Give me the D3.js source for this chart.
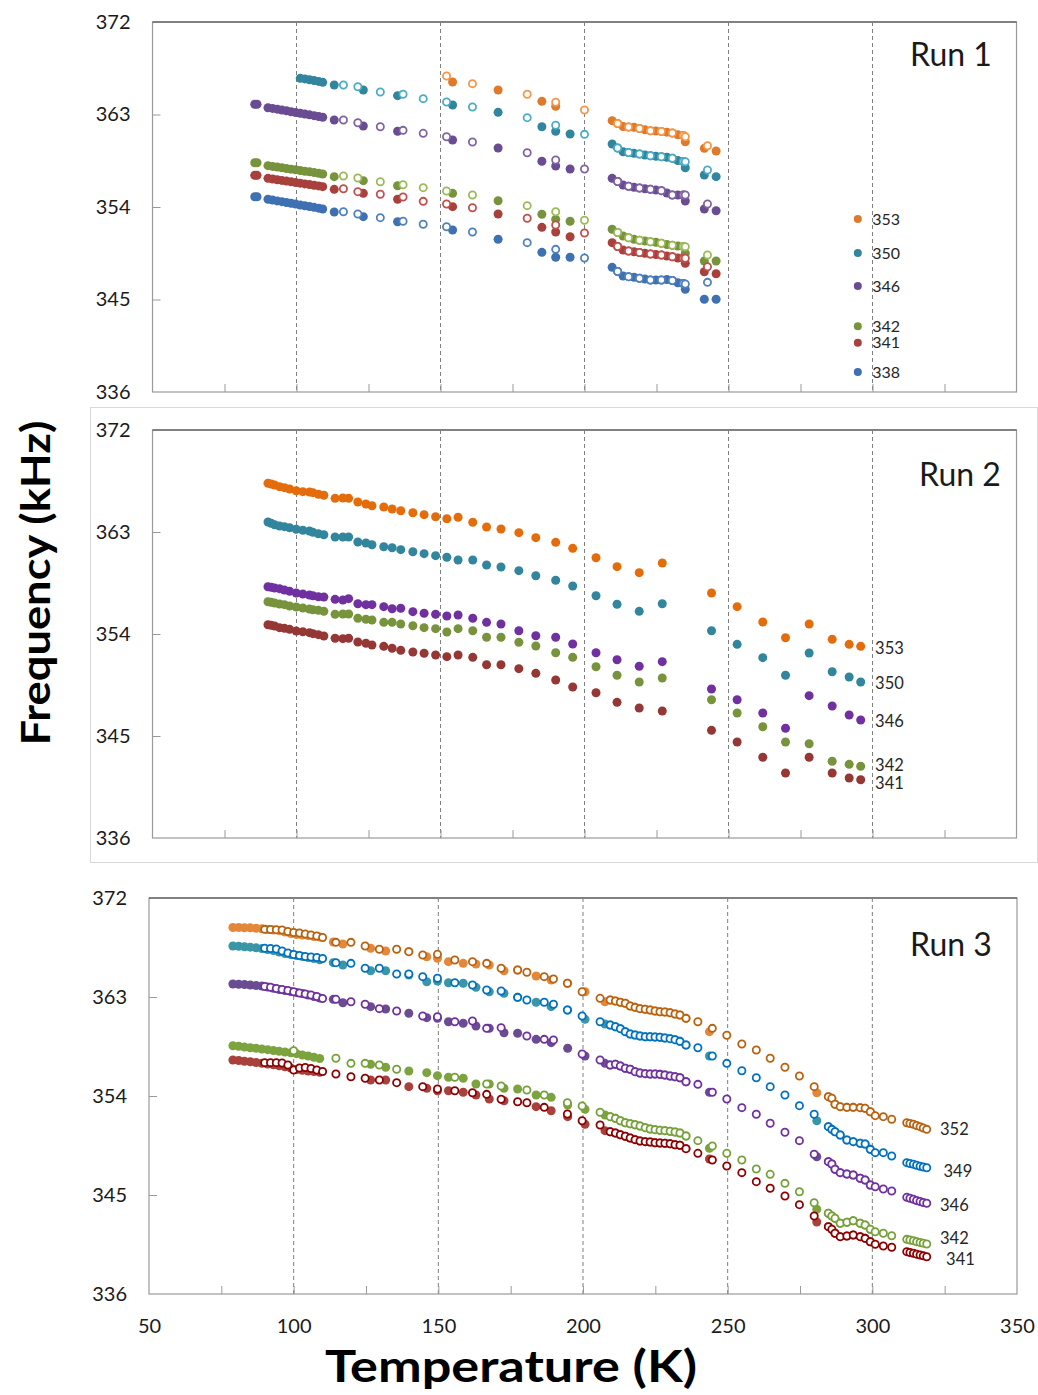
<!DOCTYPE html>
<html><head><meta charset="utf-8">
<script src="https://cdn.jsdelivr.net/npm/d3@7/dist/d3.min.js"></script>
<style>body{margin:0;background:#fff}svg{display:block}</style>
</head><body>
<svg id="chart" width="1038" height="1395" font-family="Lato, 'Open Sans', sans-serif"></svg>
<script>
// ---------------- axes ----------------
const yTicks = [336, 345, 354, 363, 372];
const yInnerTicks = [345, 354, 363];
const xTickLabels = [50, 100, 150, 200, 250, 300, 350];
const xMinorTicks = [75, 100, 125, 150, 175, 200, 225, 250, 275, 300, 325];
const xGridLines = [100, 150, 200, 250, 300];

// ---------------- Run 1 ----------------
const r1Names = ["353", "350", "346", "342", "341", "338"];
const r1FilledT = [85.5, 86.3, 90.1, 91.7, 93.3, 94.9, 96.5, 98.1, 99.7, 101.3, 102.9, 104.5, 106.1, 107.7, 109.1,
  113.1, 123.2, 135.1, 154.2, 170.0, 185.2, 190.0, 195.0,
  209.6, 211.5, 213.4, 215.3, 217.2, 219.1, 221.0, 222.9, 224.8, 226.7, 228.6, 230.5, 232.4, 234.3, 235.0, 241.6, 245.7];
const r1Filled353 = [null, null, null, null, null, null, null, null, null, null, null, null, null, null, null,
  null, null, null, 366.16, 365.38, 364.28, 363.80, null,
  362.40, 362.12, 361.83, 361.78, 361.75, 361.64, 361.51, 361.42, 361.39, 361.35, 361.28, 361.20, 361.03, 360.96, 360.35, 359.71, 359.45];
const r1Filled350 = [null, null, null, null, null, null, null, null, null, 366.52, 366.46, 366.38, 366.30, 366.22, 366.13,
  365.87, 365.38, 364.83, 363.92, 363.21, 361.81, 361.37, 361.10,
  360.13, 359.74, 359.38, 359.30, 359.22, 359.16, 359.06, 358.99, 358.94, 358.89, 358.84, 358.74, 358.52, 358.43, 357.82, 357.11, 356.95];
const r1Filled346 = [364.00, 364.00, 363.66, 363.59, 363.52, 363.43, 363.36, 363.27, 363.20, 363.12, 363.04, 362.97, 362.89, 362.81, 362.73,
  362.47, 361.88, 361.37, 360.52, 359.74, 358.45, 357.99, 357.70,
  356.79, 356.48, 356.14, 356.02, 355.92, 355.85, 355.78, 355.72, 355.65, 355.59, 355.36, 355.17, 355.17, 355.17, 354.58, 353.81, 353.64];
const r1Filled342 = [358.31, 358.31, 358.02, 357.95, 357.89, 357.82, 357.75, 357.68, 357.62, 357.55, 357.48, 357.42, 357.35, 357.28, 357.21,
  356.95, 356.56, 356.07, 355.33, 354.61, 353.29, 352.80, 352.61,
  351.83, 351.52, 351.18, 351.01, 350.86, 350.77, 350.69, 350.62, 350.57, 350.47, 350.35, 350.28, 350.21, 350.16, 349.50, 348.75, 348.75];
const r1Filled341 = [357.08, 357.08, 356.79, 356.72, 356.65, 356.59, 356.52, 356.45, 356.38, 356.32, 356.25, 356.18, 356.12, 356.05, 355.98,
  355.72, 355.33, 354.75, 354.03, 353.32, 352.02, 351.57, 351.11,
  350.53, 350.16, 349.82, 349.72, 349.65, 349.57, 349.50, 349.43, 349.38, 349.33, 349.23, 349.16, 349.04, 349.01, 348.52, 347.70, 347.51];
const r1Filled338 = [355.00, 355.00, 354.75, 354.67, 354.59, 354.52, 354.44, 354.36, 354.28, 354.20, 354.12, 354.05, 353.97, 353.89, 353.81,
  353.51, 353.06, 352.57, 351.76, 350.86, 349.59, 349.11, 349.11,
  348.13, 347.72, 347.29, 347.22, 347.16, 347.07, 346.99, 346.90, 346.90, 346.90, 346.95, 346.85, 346.63, 346.56, 345.99, 345.02, 345.02];
const r1OpenT = [116.3, 121.3, 129.1, 137.0, 144.0, 152.1, 161.1, 180.1, 190.0, 200.0,
  211.5, 215.3, 219.1, 222.9, 226.7, 230.5, 234.3, 235.0, 242.7];
const r1Open353 = [null, null, null, null, null, 366.75, 366.00, 364.97, 364.19, 363.44, 362.12, 361.78, 361.64, 361.42, 361.35, 361.20, 360.96, 360.84, 359.96];
const r1Open350 = [365.87, 365.70, 365.19, 364.97, 364.54, 364.22, 363.73, 362.69, 361.95, 361.07, 359.74, 359.30, 359.16, 358.99, 358.89, 358.74, 358.43, 358.41, 357.60];
const r1Open346 = [362.47, 362.20, 361.81, 361.46, 361.17, 360.84, 360.32, 359.28, 358.57, 357.70, 356.48, 356.02, 355.85, 355.72, 355.59, 355.17, 355.17, 355.17, 354.29];
const r1Open342 = [357.02, 356.82, 356.46, 356.17, 355.88, 355.56, 355.17, 354.13, 353.54, 352.71, 351.52, 351.01, 350.77, 350.62, 350.47, 350.28, 350.16, 350.14, 349.33];
const r1Open341 = [355.78, 355.49, 355.24, 354.97, 354.55, 354.29, 353.93, 352.90, 352.25, 351.47, 350.16, 349.72, 349.57, 349.43, 349.33, 349.16, 349.01, 349.01, 348.19];
const r1Open338 = [353.54, 353.32, 352.96, 352.61, 352.32, 352.08, 351.57, 350.53, 349.88, 349.04, 347.72, 347.22, 347.07, 346.90, 346.90, 346.85, 346.56, 346.51, 346.67];

// ---------------- Run 2 ----------------
const r2Names = ["353", "350", "346", "342", "341"];
const r2T = [90.1, 91.2, 92.4, 94.1, 95.8, 97.6, 99.9, 102.2, 104.5, 105.7, 107.6, 109.5, 113.4, 116.1, 118.1, 121.3, 124.1, 126.2,
  130.3, 133.2, 136.2, 140.4, 144.3, 148.3, 152.2, 156.1, 161.2, 166.0, 171.0, 177.2, 183.1, 190.0, 195.9, 204.0,
  211.3, 219.0, 227.0, 244.1, 253.0, 261.9, 269.8, 278.0, 286.0, 291.9, 295.9];
const r2_353 = [367.30, 367.24, 367.15, 367.00, 366.91, 366.79, 366.64, 366.56, 366.53, 366.47, 366.33, 366.24, 365.97, 366.00, 365.97, 365.65, 365.47, 365.32,
  365.21, 365.03, 364.88, 364.70, 364.53, 364.35, 364.17, 364.30, 363.86, 363.44, 363.26, 362.94, 362.50, 362.09, 361.56, 360.73,
  359.94, 359.41, 360.26, 357.62, 356.41, 355.06, 353.67, 354.88, 353.53, 353.09, 352.91];
const r2_350 = [363.88, 363.77, 363.64, 363.53, 363.47, 363.38, 363.24, 363.15, 363.09, 362.97, 362.85, 362.76, 362.56, 362.56, 362.56, 362.12, 362.03, 361.88,
  361.70, 361.61, 361.44, 361.26, 361.09, 360.91, 360.77, 360.53, 360.53, 360.09, 359.91, 359.59, 359.14, 358.74, 358.24, 357.38,
  356.62, 356.00, 356.67, 354.29, 353.09, 351.91, 350.36, 352.32, 350.67, 350.21, 349.76];
const r2_346 = [358.17, 358.12, 358.06, 358.00, 357.88, 357.77, 357.62, 357.53, 357.44, 357.38, 357.29, 357.26, 357.06, 357.00, 357.12, 356.67, 356.59, 356.59,
  356.41, 356.23, 356.27, 355.97, 355.83, 355.74, 355.59, 355.68, 355.39, 355.03, 354.88, 354.29, 353.85, 353.71, 353.12, 352.35,
  351.73, 351.15, 351.56, 349.15, 348.20, 347.03, 345.68, 348.56, 347.65, 346.85, 346.41];
const r2_342 = [356.85, 356.80, 356.74, 356.65, 356.59, 356.47, 356.38, 356.29, 356.21, 356.14, 356.09, 356.00, 355.74, 355.76, 355.76, 355.39, 355.30, 355.24,
  355.03, 355.03, 354.88, 354.73, 354.56, 354.47, 354.18, 354.47, 354.29, 353.71, 353.71, 353.27, 352.94, 352.35, 351.94, 351.11,
  350.36, 349.76, 350.12, 348.20, 347.03, 345.82, 344.47, 344.32, 342.77, 342.50, 342.33];
const r2_341 = [354.82, 354.77, 354.71, 354.56, 354.50, 354.41, 354.26, 354.20, 354.12, 354.03, 353.94, 353.82, 353.62, 353.59, 353.62, 353.29, 353.18, 353.03,
  352.91, 352.74, 352.56, 352.41, 352.30, 352.15, 352.00, 352.15, 351.94, 351.29, 351.29, 350.94, 350.53, 349.94, 349.32, 348.82,
  347.97, 347.47, 347.21, 345.50, 344.47, 343.12, 341.74, 343.12, 341.74, 341.29, 341.14];

// ---------------- Run 3 ----------------
const r3Names = ["352", "349", "346", "342", "341"];
const r3FilledT = [79, 81, 83, 85, 87, 89, 91, 93, 95, 97, 99, 101, 103, 105, 107, 109,
  113.7, 117.0, 126.6, 131.8, 139.8, 146.0, 149.7, 153.5, 158.6, 163.0, 167.6, 172.7, 177.4, 183.8, 189.0, 194.7, 200.7, 207.6,
  209.4, 211.2, 212.9, 214.6, 216.3, 218.0, 219.7, 221.5, 223.2, 224.9, 226.6, 228.3, 230.1, 231.8, 233.5, 235.6,
  243.7, 280.8, 284.8, 286.0, 287.1, 288.9, 291.2, 293.4, 295.8, 297.5, 299.3];
const r3Filled352 = [369.32, 369.32, 369.30, 369.29, 369.25, 369.20, 369.14, 369.09, 369.05, 368.91, 368.77, 368.68, 368.64, 368.59, 368.50, 368.45,
  368.00, 367.82, 367.43, 367.18, 367.12, 366.66, 366.52, 366.21, 366.06, 366.00, 365.91, 365.39, 365.45, 364.91, 364.55, 364.25, 363.48, 362.57,
  362.73, 362.64, 362.52, 362.43, 362.18, 362.06, 361.94, 361.88, 361.82, 361.73, 361.66, 361.64, 361.57, 361.45, 361.36, 361.06,
  359.85, 354.30, 353.94, 353.79, 353.25, 353.03, 352.97, 352.97, 352.94, 352.88, 352.57];
const r3Filled349 = [367.64, 367.61, 367.57, 367.53, 367.47, 367.41, 367.32, 367.23, 367.09, 366.95, 366.86, 366.77, 366.68, 366.59, 366.50, 366.39,
  366.12, 365.91, 365.39, 365.39, 365.00, 364.39, 364.45, 364.30, 364.25, 363.88, 363.48, 363.34, 362.97, 362.52, 362.12, 361.82, 360.97, 360.55,
  360.45, 360.30, 360.12, 359.85, 359.64, 359.55, 359.45, 359.39, 359.39, 359.36, 359.34, 359.27, 359.21, 359.12, 358.97, 358.64,
  357.64, 351.75, 351.21, 350.97, 350.75, 350.45, 350.00, 349.85, 349.70, 349.64, 349.15];
const r3Filled346 = [364.18, 364.16, 364.14, 364.09, 364.05, 364.00, 363.91, 363.79, 363.68, 363.59, 363.50, 363.41, 363.32, 363.18, 363.05, 362.91,
  362.79, 362.48, 362.12, 361.91, 361.52, 361.12, 361.06, 360.75, 360.61, 360.36, 360.15, 359.75, 359.70, 359.15, 358.85, 358.34, 357.64, 356.97,
  356.82, 356.88, 356.73, 356.52, 356.43, 356.21, 356.09, 356.03, 356.00, 356.00, 355.97, 355.91, 355.82, 355.75, 355.66, 355.30,
  354.34, 348.48, 348.03, 347.82, 347.34, 347.03, 346.91, 346.82, 346.52, 346.36, 345.91];
const r3Filled342 = [358.57, 358.52, 358.45, 358.39, 358.34, 358.27, 358.21, 358.14, 358.06, 358.00, 357.93, 357.85, 357.73, 357.64, 357.52, 357.41,
  null, null, 356.88, 356.61, 356.27, 356.12, 355.85, 355.70, 355.61, 355.09, 355.09, 354.70, 354.64, 354.09, 353.88, 353.18, 352.79, 352.27,
  352.12, 351.97, 351.75, 351.57, 351.48, 351.39, 351.27, 351.12, 351.00, 350.94, 350.88, 350.85, 350.79, 350.73, 350.64, 350.36,
  349.25, 343.70, 343.34, 343.09, 342.88, 342.43, 342.52, 342.66, 342.43, 342.27, 341.88];
const r3Filled341 = [357.27, 357.23, 357.16, 357.11, 357.05, 356.97, 356.91, 356.84, 356.75, 356.66, 356.55, 356.41, 356.34, 356.27, 356.23, 356.15,
  null, null, 355.45, 355.45, 354.85, 354.70, 354.48, 354.48, 354.34, 354.09, 353.73, 353.57, null, 353.03, 352.66, 352.12, 351.43, 350.85,
  350.75, 350.64, 350.48, 350.34, 350.18, 350.03, 349.91, 349.85, 349.82, 349.75, 349.73, 349.70, 349.66, 349.57, 349.52, 349.21,
  348.27, 342.55, 342.12, 341.88, 341.52, 341.21, 341.27, 341.36, 341.21, 341.06, 340.75];
const r3OpenT = [90, 92, 94, 96, 98, 100, 102, 104, 106, 108, 110,
  114.6, 119.8, 124.7, 129.6, 135.6, 139.8, 144.6, 149.7, 155.7, 161.8, 166.7, 171.7, 177.4, 180.6, 186.6, 189.8, 194.6, 199.7, 205.9,
  209.4, 211.2, 212.9, 214.6, 216.3, 218.0, 219.7, 221.5, 223.2, 224.9, 226.6, 228.3, 230.1, 231.8, 233.5, 235.6,
  239.7, 244.7, 249.7, 254.9, 259.9, 264.7, 269.8, 274.8, 279.9,
  284.8, 286.0, 287.1, 288.9, 291.2, 293.4, 295.8, 297.5, 299.3,
  301.0, 303.8, 306.7, 311.9, 313.0, 314.2, 315.3, 316.5, 317.6, 318.8];
const r3Open352 = [369.15, 369.14, 369.12, 369.09, 368.95, 368.86, 368.82, 368.73, 368.64, 368.55, 368.41,
  367.97, 367.97, 367.64, 367.34, 367.34, 367.12, 366.82, 366.88, 366.36, 366.21, 366.06, 365.61, 365.45, 365.25, 364.85, 364.64, 364.25, 363.48, 362.88,
  362.73, 362.64, 362.52, 362.43, 362.18, 362.06, 361.94, 361.88, 361.82, 361.73, 361.66, 361.64, 361.57, 361.45, 361.36, 361.06,
  360.75, 360.15, 359.52, 358.73, 358.18, 357.43, 356.61, 355.82, 354.85,
  353.94, 353.79, 353.25, 353.03, 352.97, 352.97, 352.94, 352.88, 352.57,
  352.21, 352.12, 351.88, 351.57, 351.50, 351.43, 351.32, 351.21, 351.09, 350.97];
const r3Open349 = [367.43, 367.41, 367.36, 367.18, 367.00, 366.86, 366.77, 366.68, 366.64, 366.59, 366.50,
  366.12, 366.06, 365.61, 365.61, 365.09, 365.09, 364.85, 364.70, 364.30, 364.09, 363.64, 363.55, 362.97, 362.73, 362.52, 362.34, 361.82, 361.27, 360.75,
  360.45, 360.30, 360.12, 359.85, 359.64, 359.55, 359.45, 359.39, 359.39, 359.36, 359.34, 359.27, 359.21, 359.12, 358.97, 358.64,
  358.39, 357.64, 356.97, 356.30, 355.66, 354.85, 354.09, 353.12, 352.34,
  351.21, 350.97, 350.75, 350.45, 350.00, 349.85, 349.70, 349.64, 349.15,
  348.85, 348.85, 348.55, 347.94, 347.86, 347.79, 347.70, 347.61, 347.55, 347.48];
const r3Open346 = [363.95, 363.88, 363.77, 363.68, 363.59, 363.48, 363.36, 363.27, 363.18, 363.05, 362.86,
  362.79, 362.57, 362.34, 361.94, 361.73, null, 361.27, 361.21, 360.75, 360.82, 360.15, 360.21, null, 359.45, 359.15, 359.09, null, 357.82, 357.27,
  356.82, 356.88, 356.73, 356.52, 356.43, 356.21, 356.09, 356.03, 356.00, 356.00, 355.97, 355.91, 355.82, 355.75, 355.66, 355.30,
  355.06, 354.34, 353.73, 352.94, 352.34, 351.52, 350.70, 349.94, 348.70,
  348.03, 347.82, 347.34, 347.03, 346.91, 346.82, 346.52, 346.36, 345.91,
  345.75, 345.55, 345.36, 344.79, 344.70, 344.61, 344.50, 344.41, 344.32, 344.25];
const r3Open342 = [null, null, null, null, null, 358.12, null, null, null, null, null,
  357.43, 356.97, 356.97, 356.82, 356.43, null, null, null, 355.70, null, 355.09, 354.91, null, 354.55, 354.09, null, 353.39, 353.09, 352.52,
  352.12, 351.97, 351.75, 351.57, 351.48, 351.39, 351.27, 351.12, 351.00, 350.94, 350.88, 350.85, 350.79, 350.73, 350.64, 350.36,
  349.94, 349.45, 348.79, 348.18, 347.36, 346.88, 346.06, 345.30, 344.30,
  343.34, 343.09, 342.88, 342.43, 342.52, 342.66, 342.43, 342.27, 341.88,
  341.66, 341.52, 341.30, 340.97, 340.91, 340.84, 340.76, 340.69, 340.62, 340.55];
const r3Open341 = [357.03, 357.03, 357.03, 357.00, 356.82, 356.36, 356.55, 356.59, 356.50, 356.36, 356.23,
  356.00, 355.75, 355.61, 355.45, 355.21, null, 354.85, 354.64, 354.48, 354.30, 354.15, 353.70, 353.48, 353.39, 352.97, null, 352.36, 351.75, 351.36,
  350.75, 350.64, 350.48, 350.34, 350.18, 350.03, 349.91, 349.85, 349.82, 349.75, 349.73, 349.70, 349.66, 349.57, 349.52, 349.21,
  348.79, 348.18, 347.64, 347.03, 346.21, 345.61, 344.91, 344.12, 343.09,
  342.12, 341.88, 341.52, 341.21, 341.27, 341.36, 341.21, 341.06, 340.75,
  340.52, 340.36, 340.25, 339.85, 339.77, 339.70, 339.62, 339.55, 339.47, 339.39];

// ---------------- styles / layout ----------------
const r1FillColors = ["#DE7A2C", "#31859C", "#6A4C93", "#77933C", "#A8403C", "#3E70B2"];
const r1OpenColors = ["#F79646", "#4BACC6", "#8064A2", "#9BBB59", "#C0504D", "#4F81BD"];
const r2Colors = ["#E46C0A", "#31859C", "#7030A0", "#77933C", "#953735"];
const r3FillColors = ["#E3883A", "#3A96A6", "#6A4C93", "#7DA33F", "#A8403C"];
const r3OpenColors = ["#B8620F", "#0070C0", "#7030A0", "#76A03A", "#8B0000"];

const r1LegendPos = {t: 294.9, tText: 299.9, f: [352.83, 349.52, 346.31, 342.40, 340.80, 337.95]};
const r2LabelPos = {t: 300.9, f: [352.8, 349.7, 346.3, 342.45, 340.85]};
const r3LabelPos = {t: [323.4, 324.6, 323.4, 323.4, 325.5], f: [351.0, 347.2, 344.1, 341.05, 339.15]};

const layouts = [
  {x0: 152.5, x1: 1016.5, y0: 22, y1: 392, run: "Run 1", runX: 910, runY: 66},
  {x0: 152.5, x1: 1016.5, y0: 430, y1: 838, run: "Run 2", runX: 919, runY: 486},
  {x0: 149, x1: 1017, y0: 898, y1: 1294, run: "Run 3", runX: 910, runY: 956}
];

const svg = d3.select("#chart");
svg.append("rect").attr("width", 1038).attr("height", 1395).attr("fill", "#fff");
svg.append("rect").attr("x", 90.5).attr("y", 407.5).attr("width", 947).attr("height", 455)
  .attr("fill", "none").attr("stroke", "#d9d9d9").attr("stroke-width", 1);

function makePanel(L, showXLabels) {
  const x = d3.scaleLinear().domain([50, 350]).range([L.x0, L.x1]);
  const y = d3.scaleLinear().domain([336, 372]).range([L.y1, L.y0]);
  const g = svg.append("g");
  g.append("rect").attr("x", L.x0).attr("y", L.y0).attr("width", L.x1 - L.x0).attr("height", L.y1 - L.y0)
    .attr("fill", "#fff").attr("stroke", "#9a9a9a").attr("stroke-width", 1.2);
  g.append("line").attr("x1", L.x0).attr("x2", L.x1).attr("y1", L.y0).attr("y2", L.y0)
    .attr("stroke", "#404040").attr("stroke-width", 1);
  g.selectAll(null).data(xGridLines).join("line")
    .attr("x1", d => x(d)).attr("x2", d => x(d)).attr("y1", L.y0).attr("y2", L.y1)
    .attr("stroke", "#7f7f7f").attr("stroke-width", 1).attr("stroke-dasharray", "4,3");
  const ly = g.append("g").attr("transform", `translate(${L.x0},0)`)
    .call(d3.axisLeft(y).tickValues(yInnerTicks).tickSize(-8).tickFormat(""));
  ly.select(".domain").remove();
  ly.selectAll("line").attr("stroke", "#9a9a9a");
  const lx = g.append("g").attr("transform", `translate(0,${L.y1})`)
    .call(d3.axisBottom(x).tickValues(xMinorTicks).tickSize(-8).tickFormat(""));
  lx.select(".domain").remove();
  lx.selectAll("line").attr("stroke", "#9a9a9a");
  const yl = g.append("g").attr("transform", `translate(${L.x0},0)`)
    .call(d3.axisLeft(y).tickValues(yTicks).tickSize(0).tickPadding(22).tickFormat(d3.format("d")));
  yl.select(".domain").remove();
  yl.selectAll("text").attr("font-size", 20).attr("fill", "#1a1a1a").attr("font-family", "Lato, sans-serif");
  if (showXLabels) {
    const xl = g.append("g").attr("transform", `translate(0,${L.y1})`)
      .call(d3.axisBottom(x).tickValues(xTickLabels).tickSize(0).tickPadding(25).tickFormat(d3.format("d")));
    xl.select(".domain").remove();
    xl.selectAll("text").attr("font-size", 20).attr("fill", "#1a1a1a").attr("font-family", "Lato, sans-serif");
  }
  g.append("text").attr("x", L.runX).attr("y", L.runY).attr("font-size", 32).attr("fill", "#1a1a1a").text(L.run);
  return {g, x, y};
}

function filledDots(P, T, vals, color, r) {
  P.g.append("g").selectAll("circle")
    .data(T.map((t, i) => [t, vals[i]]).filter(d => d[1] != null))
    .join("circle").attr("cx", d => P.x(d[0])).attr("cy", d => P.y(d[1])).attr("r", r || 4.5)
    .attr("fill", color);
}
function openDots(P, T, vals, color) {
  P.g.append("g").selectAll("circle")
    .data(T.map((t, i) => [t, vals[i]]).filter(d => d[1] != null))
    .join("circle").attr("cx", d => P.x(d[0])).attr("cy", d => P.y(d[1])).attr("r", 3.6)
    .attr("fill", "#fff").attr("stroke", color).attr("stroke-width", 1.8);
}

// ---- Run 1
const P1 = makePanel(layouts[0], false);
const r1F = [r1Filled353, r1Filled350, r1Filled346, r1Filled342, r1Filled341, r1Filled338];
const r1O = [r1Open353, r1Open350, r1Open346, r1Open342, r1Open341, r1Open338];
r1F.forEach((v, i) => filledDots(P1, r1FilledT, v, r1FillColors[i]));
r1O.forEach((v, i) => openDots(P1, r1OpenT, v, r1OpenColors[i]));
r1Names.forEach((n, i) => {
  P1.g.append("circle").attr("cx", P1.x(r1LegendPos.t)).attr("cy", P1.y(r1LegendPos.f[i])).attr("r", 4)
    .attr("fill", r1FillColors[i]);
  P1.g.append("text").attr("x", P1.x(r1LegendPos.tText)).attr("y", P1.y(r1LegendPos.f[i])).attr("dy", "0.36em")
    .attr("font-size", 16).attr("fill", "#262626").text(n);
});

// ---- Run 2
const P2 = makePanel(layouts[1], false);
const r2V = [r2_353, r2_350, r2_346, r2_342, r2_341];
r2V.forEach((v, i) => filledDots(P2, r2T, v, r2Colors[i]));
r2Names.forEach((n, i) => {
  P2.g.append("text").attr("x", P2.x(r2LabelPos.t)).attr("y", P2.y(r2LabelPos.f[i])).attr("dy", "0.36em")
    .attr("font-size", 16.5).attr("fill", "#262626").text(n);
});

// ---- Run 3
const P3 = makePanel(layouts[2], true);
const r3F = [r3Filled352, r3Filled349, r3Filled346, r3Filled342, r3Filled341];
const r3O = [r3Open352, r3Open349, r3Open346, r3Open342, r3Open341];
r3F.forEach((v, i) => filledDots(P3, r3FilledT, v, r3FillColors[i]));
r3O.forEach((v, i) => openDots(P3, r3OpenT, v, r3OpenColors[i]));
r3Names.forEach((n, i) => {
  P3.g.append("text").attr("x", P3.x(r3LabelPos.t[i])).attr("y", P3.y(r3LabelPos.f[i])).attr("dy", "0.36em")
    .attr("font-size", 16.5).attr("fill", "#262626").text(n);
});

// ---- axis titles
svg.append("text").attr("transform", "translate(50,583) rotate(-90)").attr("text-anchor", "middle")
  .attr("font-size", 40).attr("font-weight", "bold").attr("fill", "#000")
  .attr("textLength", 325).attr("lengthAdjust", "spacingAndGlyphs").text("Frequency (kHz)");
svg.append("text").attr("x", 511).attr("y", 1382).attr("text-anchor", "middle")
  .attr("font-size", 44).attr("font-weight", "bold").attr("fill", "#000")
  .attr("textLength", 372).attr("lengthAdjust", "spacingAndGlyphs").text("Temperature (K)");
</script>
</body></html>
